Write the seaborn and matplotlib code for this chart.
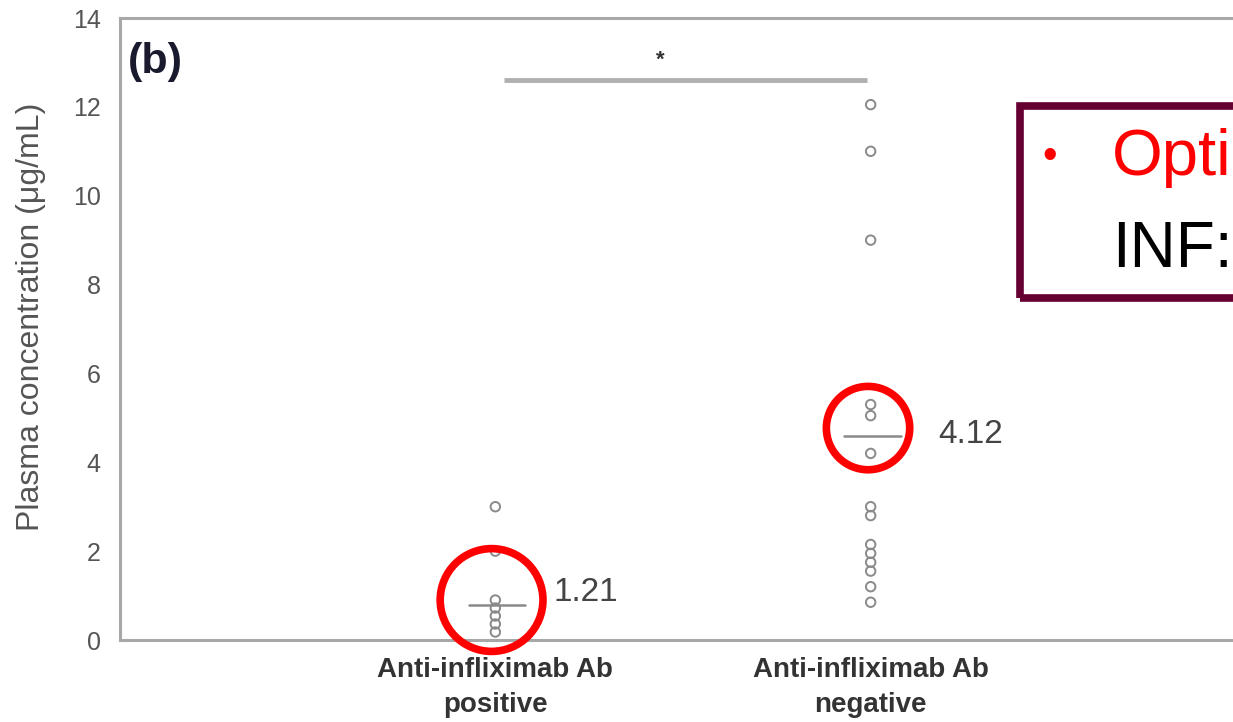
import matplotlib
matplotlib.use('Agg')
import matplotlib.pyplot as plt
from matplotlib.patches import Rectangle
import seaborn as sns
import pandas as pd

sns.set_style('white')
plt.rcParams['font.family'] = ['Liberation Sans', 'DejaVu Sans']

# Data
groups = ['Anti-infliximab Ab\npositive', 'Anti-infliximab Ab\nnegative']
positive_vals = [3.0, 2.0, 0.9, 0.72, 0.54, 0.36, 0.18]
negative_vals = [12.05, 11.0, 9.0, 5.3, 5.05, 4.2, 3.0, 2.8,
                 2.15, 1.95, 1.75, 1.55, 1.2, 0.85]
median_lines = [0.79, 4.6]
median_labels = ['1.21', '4.12']
circle_y = [0.9, 4.77]
sig_y = 12.6

df = pd.DataFrame({
    'group': [groups[0]] * len(positive_vals) + [groups[1]] * len(negative_vals),
    'conc': positive_vals + negative_vals,
})

fig = plt.figure(figsize=(12.33, 7.22), dpi=100)
ax = fig.add_axes([120 / 1233, 82 / 722, (1246 - 120) / 1233, 622 / 722])

sns.stripplot(data=df, x='group', y='conc', order=groups, jitter=False,
              color='white', edgecolor='#8a8a8a', linewidth=1.4, size=6.8, ax=ax)
for c in ax.collections:
    c.set_facecolor('none')

# median lines and labels
for i, m in enumerate(median_lines):
    ax.plot([i - 0.07, i + 0.08], [m, m], color='#8a8a8a', lw=1.8)
ax.text(0.155, 1.06, median_labels[0], fontsize=24, color='#444444', va='center')
ax.text(1.18, 4.62, median_labels[1], fontsize=24, color='#444444', va='center')

# red highlight circles
ax.scatter([-0.01], [circle_y[0]], s=74 ** 2, facecolors='none', edgecolors='#ff0000',
           linewidths=5.5, zorder=5, clip_on=False)
ax.scatter([0.993], [circle_y[1]], s=60 ** 2, facecolors='none', edgecolors='#ff0000',
           linewidths=5.5, zorder=5, clip_on=False)

# significance bar
ax.plot([0.024, 0.99], [sig_y, sig_y], color='#b0b0b0', lw=3.5, solid_capstyle='butt')
ax.text(0.44, 13.05, '*', fontsize=16, color='#333333', ha='center', va='center',
        fontweight='bold')

ax.set_xlim(-1, 2)
ax.set_ylim(0, 14)
ax.set_yticks(range(0, 15, 2))
ax.set_xlabel('')
ax.set_ylabel('Plasma concentration (\u03bcg/mL)', fontsize=23, color='#555555')
ax.yaxis.set_label_coords(-0.066, 0.52)
ax.tick_params(axis='y', direction='in', length=5, width=1, color='#999999',
               labelsize=18, labelcolor='#555555', pad=14)
ax.tick_params(axis='x', direction='in', length=5, width=1, color='#999999',
               labelsize=20, labelcolor='#333333', pad=12)
for lab in ax.get_xticklabels():
    lab.set_fontweight('bold')
    lab.set_linespacing(1.45)
for side in ['left', 'bottom', 'top']:
    ax.spines[side].set_color('#a8a8a8')
    ax.spines[side].set_linewidth(2.2)
ax.spines['right'].set_visible(False)

ax.text(-0.978, 13.0, '(b)', fontsize=31, fontweight='bold', color='#1a1a2e', va='center')

# call-out box on the right, cut off at the picture edge
fig.patches.append(Rectangle((1020 / 1233, (722 - 298) / 722), 0.3, 192 / 722,
                             transform=fig.transFigure, fill=False,
                             edgecolor='#660033', linewidth=5.5, clip_on=False))
fig.text(1050 / 1233, 1 - 157 / 722, '\u2022', fontsize=30, color='#ff0000',
         ha='center', va='center')
fig.text(1112 / 1233, 1 - 158 / 722, 'Opti', fontsize=47, color='#ff0000', va='center')
fig.text(1112 / 1233, 1 - 250 / 722, 'INF:', fontsize=46, color='#000000', va='center')

fig.savefig('out.png', dpi=100)
